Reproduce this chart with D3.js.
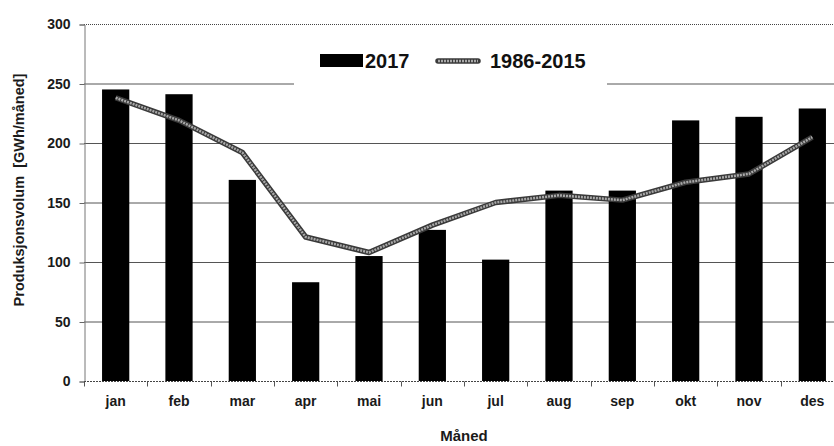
<!doctype html>
<html lang="no">
<head>
  <meta charset="utf-8" />
  <title>Produksjonsvolum per måned</title>
  <style>
    html, body { margin: 0; padding: 0; background: #fff; }
    svg { display: block; font-family: "Liberation Sans", Arial, sans-serif; }
  </style>
</head>
<body>
<svg id="chart" width="834" height="446"></svg>

<script src="https://cdn.jsdelivr.net/npm/d3@7/dist/d3.min.js"></script>
<script>

// Data
var months = ['jan', 'feb', 'mar', 'apr', 'mai', 'jun', 'jul', 'aug', 'sep', 'okt', 'nov', 'des'];
var values2017 = [245, 241, 169, 83, 105, 127, 102, 160, 160, 219, 222, 229];
var normal8615 = [238, 219, 192, 121, 108, 131, 150, 156, 152, 167, 174, 205];
var yTicks = [0, 50, 100, 150, 200, 250, 300];
var legendLabels = ['2017', '1986-2015'];

var svg = d3.select('#chart');

// Scales (the plot runs a little past the right edge of the picture)
var x = d3.scaleBand()
  .domain(months)
  .range([84, 844])
  .paddingInner(0.57)
  .paddingOuter(0.285);

var y = d3.scaleLinear()
  .domain([0, 300])
  .range([381, 24]);

// Gridlines
svg.append('g')
  .selectAll('line')
  .data(yTicks.filter(function (d) { return d > 0; }))
  .enter()
  .append('line')
  .attr('x1', 84)
  .attr('x2', 834)
  .attr('y1', function (d) { return y(d) + 0.5; })
  .attr('y2', function (d) { return y(d) + 0.5; })
  .attr('stroke', function (d) { return d === 300 ? '#444' : '#555'; })
  .attr('stroke-width', 1)
  .attr('stroke-dasharray', function (d) { return d === 300 ? '1,1' : null; });

// Y axis
var yAxis = d3.axisLeft(y)
  .tickValues(yTicks)
  .tickSize(5)
  .tickPadding(9);

var gy = svg.append('g')
  .attr('transform', 'translate(84.5,0.5)')
  .call(yAxis);
gy.select('.domain').attr('stroke', '#777');
gy.selectAll('.tick line').attr('stroke', '#666');
gy.selectAll('text')
  .attr('font-size', 14)
  .attr('font-weight', 'bold')
  .attr('fill', '#1a1a1a');

// Bars
svg.append('g')
  .selectAll('rect')
  .data(values2017)
  .enter()
  .append('rect')
  .attr('x', function (d, i) { return x(months[i]); })
  .attr('y', function (d) { return y(d); })
  .attr('width', x.bandwidth())
  .attr('height', function (d) { return y(0) - y(d); })
  .attr('fill', '#000');

// X axis with ticks between categories
var gx = svg.append('g').attr('transform', 'translate(0,381.5)');
gx.append('line')
  .attr('x1', 84).attr('x2', 834)
  .attr('stroke', '#444')
  .attr('stroke-dasharray', '2,1');
gx.selectAll('.tk')
  .data(months)
  .enter()
  .append('line')
  .attr('class', 'tk')
  .attr('x1', function (d) { return Math.round(x(d) - x.bandwidth() * 0.66) + 0.5; })
  .attr('x2', function (d) { return Math.round(x(d) - x.bandwidth() * 0.66) + 0.5; })
  .attr('y1', 0)
  .attr('y2', 5)
  .attr('stroke', '#555');
gx.selectAll('text')
  .data(months)
  .enter()
  .append('text')
  .attr('x', function (d) { return x(d) + x.bandwidth() / 2; })
  .attr('y', 24)
  .attr('text-anchor', 'middle')
  .attr('font-size', 14)
  .attr('font-weight', 'bold')
  .attr('fill', '#1a1a1a')
  .text(function (d) { return d; });

// Line 1986-2015
var line = d3.line()
  .x(function (d, i) { return x(months[i]) + x.bandwidth() / 2; })
  .y(function (d) { return y(d); });

svg.append('path')
  .datum(normal8615)
  .attr('d', line)
  .attr('fill', 'none')
  .attr('stroke', '#3a3a3a')
  .attr('stroke-width', 5.5)
  .attr('stroke-linejoin', 'round');
svg.append('path')
  .datum(normal8615)
  .attr('d', line)
  .attr('fill', 'none')
  .attr('stroke', '#a8a8a8')
  .attr('stroke-width', 2.5)
  .attr('stroke-dasharray', '2,1')
  .attr('stroke-linejoin', 'round');

// Legend
var legend = svg.append('g');
legend.append('rect')
  .attr('x', 294).attr('y', 38)
  .attr('width', 313).attr('height', 50)
  .attr('fill', '#fff');
legend.append('rect')
  .attr('x', 320).attr('y', 54)
  .attr('width', 43).attr('height', 13)
  .attr('fill', '#000');
legend.append('text')
  .attr('x', 365).attr('y', 68)
  .attr('font-size', 20)
  .attr('font-weight', 'bold')
  .attr('fill', '#111')
  .text(legendLabels[0]);
legend.append('line')
  .attr('x1', 438).attr('x2', 478)
  .attr('y1', 61).attr('y2', 61)
  .attr('stroke', '#3a3a3a')
  .attr('stroke-width', 5.5)
  .attr('stroke-linecap', 'round');
legend.append('line')
  .attr('x1', 438).attr('x2', 478)
  .attr('y1', 61).attr('y2', 61)
  .attr('stroke', '#a8a8a8')
  .attr('stroke-width', 2.5)
  .attr('stroke-dasharray', '2,1');
legend.append('text')
  .attr('x', 490).attr('y', 68)
  .attr('font-size', 20)
  .attr('font-weight', 'bold')
  .attr('fill', '#111')
  .text(legendLabels[1]);

// Axis titles
svg.append('text')
  .attr('x', 464)
  .attr('y', 441)
  .attr('text-anchor', 'middle')
  .attr('font-size', 15)
  .attr('font-weight', 'bold')
  .attr('fill', '#1a1a1a')
  .text('Måned');

svg.append('text')
  .attr('transform', 'translate(24,190) rotate(-90)')
  .attr('text-anchor', 'middle')
  .attr('font-size', 14.5)
  .attr('font-weight', 'bold')
  .attr('fill', '#1a1a1a')
  .attr('xml:space', 'preserve')
  .text('Produksjonsvolum  [GWh/måned]');

</script>
</body>
</html>
